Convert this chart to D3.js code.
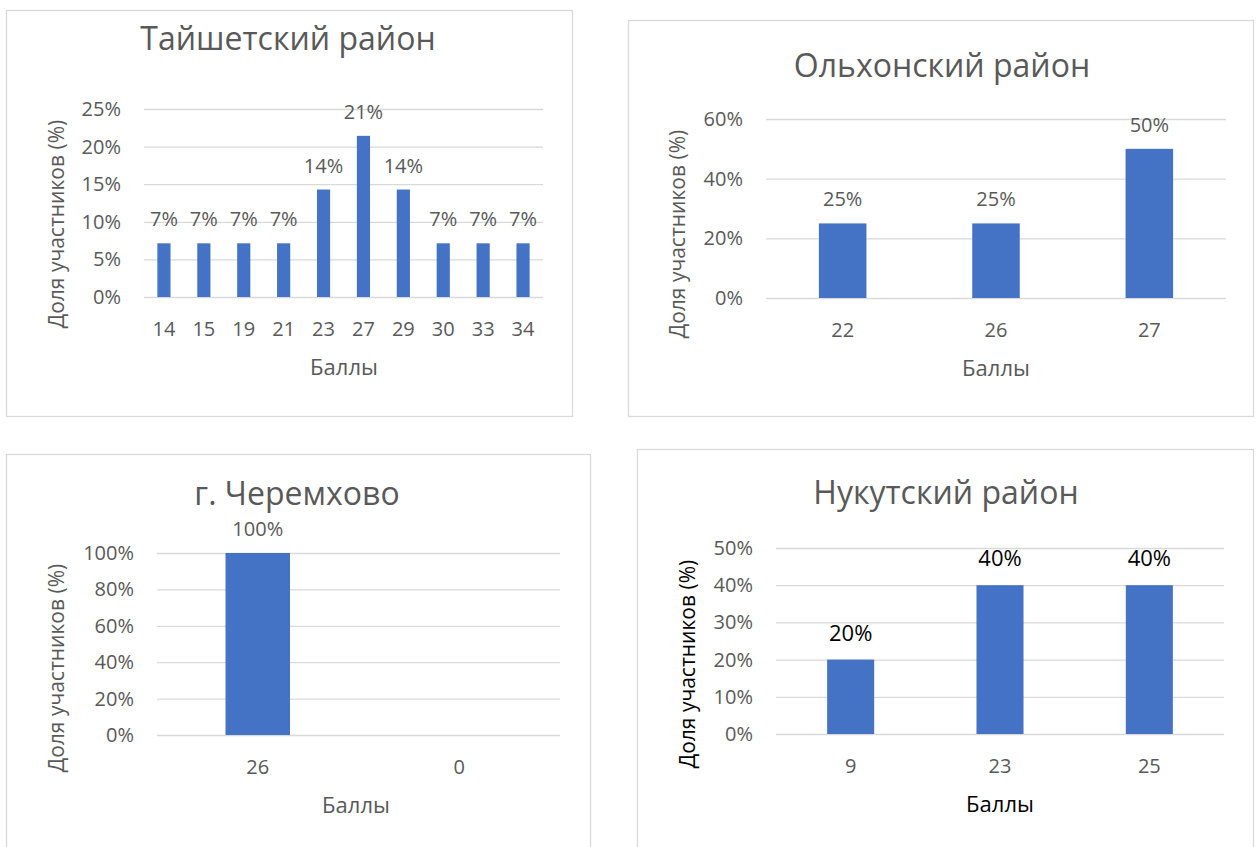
<!DOCTYPE html>
<html>
<head>
<meta charset="utf-8">
<script src="https://cdn.jsdelivr.net/npm/d3@7"></script>
<style>
  html, body { margin: 0; padding: 0; background: #fff; }
  svg { display: block; }
  text { font-family: "Open Sans", "Noto Sans", sans-serif; }
</style>
</head>
<body>
<svg id="chart" width="1259" height="847"></svg>
<script>
// ---------- DATA ----------
const taishetCategories = ["14", "15", "19", "21", "23", "27", "29", "30", "33", "34"];
const taishetValues = [7.14, 7.14, 7.14, 7.14, 14.29, 21.43, 14.29, 7.14, 7.14, 7.14];
const taishetTicks = [0, 5, 10, 15, 20, 25];

const olkhonCategories = ["22", "26", "27"];
const olkhonValues = [25, 25, 50];
const olkhonTicks = [0, 20, 40, 60];

const cheremkhovoCategories = ["26", "0"];
const cheremkhovoValues = [100, null];
const cheremkhovoTicks = [0, 20, 40, 60, 80, 100];

const nukutCategories = ["9", "23", "25"];
const nukutValues = [20, 40, 40];
const nukutTicks = [0, 10, 20, 30, 40, 50];

const titles = ["Тайшетский район", "Ольхонский район", "г. Черемхово", "Нукутский район"];
const yAxisTitle = "Доля участников (%)";
const xAxisTitle = "Баллы";

// ---------- LAYOUT ----------
const panels = [
  { title: titles[0], cats: taishetCategories, vals: taishetValues, ticks: taishetTicks,
    box: [6, 10, 572, 416], plot: [144, 109, 543, 297], titleXY: [288, 50],
    yTitleXY: [64, 224], xTitleXY: [344, 375], barRatio: 0.33, dark: false },
  { title: titles[1], cats: olkhonCategories, vals: olkhonValues, ticks: olkhonTicks,
    box: [628, 20, 1253, 416], plot: [766, 119, 1226, 298], titleXY: [942, 77],
    yTitleXY: [685, 234], xTitleXY: [996, 376], barRatio: 0.31, dark: false },
  { title: titles[2], cats: cheremkhovoCategories, vals: cheremkhovoValues, ticks: cheremkhovoTicks,
    box: [6, 454, 590, 860], plot: [157, 553, 560, 735], titleXY: [297, 505],
    yTitleXY: [64, 668], xTitleXY: [356, 813], barRatio: 0.32, dark: false },
  { title: titles[3], cats: nukutCategories, vals: nukutValues, ticks: nukutTicks,
    box: [637, 449, 1253, 860], plot: [776, 548, 1224, 734], titleXY: [946, 504],
    yTitleXY: [695, 664], xTitleXY: [1000, 812], barRatio: 0.315, dark: true }
];

const svg = d3.select("#chart");
svg.append("rect").attr("width", 1259).attr("height", 847).attr("fill", "#fff");

const GREY = "#595959";
const GRID = "#d9d9d9";
const BAR = "#4472C4";

panels.forEach(p => {
  const g = svg.append("g");
  const [bx0, by0, bx1, by1] = p.box;
  g.append("rect")
    .attr("x", bx0 + 0.5).attr("y", by0 + 0.5)
    .attr("width", bx1 - bx0).attr("height", by1 - by0)
    .attr("fill", "#fff").attr("stroke", GRID).attr("stroke-width", 1.3);

  const [px0, py0, px1, py1] = p.plot;
  const maxTick = p.ticks[p.ticks.length - 1];
  const y = d3.scaleLinear().domain([0, maxTick]).range([py1, py0]);
  const x = d3.scaleBand().domain(p.cats).range([px0, px1]).padding(0);

  // gridlines + y tick labels
  const yAxis = d3.axisLeft(y)
    .tickValues(p.ticks)
    .tickSizeInner(-(px1 - px0))
    .tickSizeOuter(0)
    .tickPadding(23)
    .tickFormat(d => d + "%");
  const ya = g.append("g").attr("transform", `translate(${px0},0)`).call(yAxis);
  ya.select(".domain").remove();
  ya.selectAll(".tick line").attr("stroke", GRID).attr("stroke-width", 1.3);
  ya.selectAll(".tick text").attr("fill", GREY).style("font-size", "20px")
    .style("font-family", '"Open Sans", sans-serif');

  // x tick labels
  const xAxis = d3.axisBottom(x).tickSize(0).tickPadding(25);
  const xa = g.append("g").attr("transform", `translate(0,${py1})`).call(xAxis);
  xa.select(".domain").remove();
  xa.selectAll(".tick text").attr("fill", GREY).style("font-size", "20px")
    .style("font-family", '"Open Sans", sans-serif');

  // bars
  const data = p.cats.map((c, i) => ({ c, v: p.vals[i] })).filter(d => d.v != null);
  const bw = x.bandwidth() * p.barRatio;
  g.selectAll("rect.bar").data(data).enter().append("rect")
    .attr("class", "bar")
    .attr("x", d => x(d.c) + (x.bandwidth() - bw) / 2)
    .attr("width", bw)
    .attr("y", d => y(d.v))
    .attr("height", d => y(0) - y(d.v))
    .attr("fill", BAR);

  // data labels
  g.selectAll("text.lbl").data(data).enter().append("text")
    .attr("class", "lbl")
    .attr("x", d => x(d.c) + x.bandwidth() / 2)
    .attr("y", d => y(d.v) - (p.dark ? 19 : 17))
    .attr("text-anchor", "middle")
    .attr("fill", p.dark ? "#000" : GREY)
    .style("font-size", p.dark ? "22px" : "20px")
    .text(d => Math.round(d.v) + "%");

  // title
  g.append("text")
    .attr("x", p.titleXY[0]).attr("y", p.titleXY[1])
    .attr("text-anchor", "middle").attr("fill", GREY)
    .style("font-size", "32px")
    .text(p.title);

  // y axis title
  g.append("text")
    .attr("transform", `translate(${p.yTitleXY[0]},${p.yTitleXY[1]}) rotate(-90)`)
    .attr("text-anchor", "middle")
    .attr("fill", p.dark ? "#000" : GREY)
    .style("font-size", "21px")
    .text(yAxisTitle);

  // x axis title
  g.append("text")
    .attr("x", p.xTitleXY[0]).attr("y", p.xTitleXY[1])
    .attr("text-anchor", "middle")
    .attr("fill", p.dark ? "#000" : GREY)
    .style("font-size", "22px")
    .text(xAxisTitle);
});
</script>
</body>
</html>
